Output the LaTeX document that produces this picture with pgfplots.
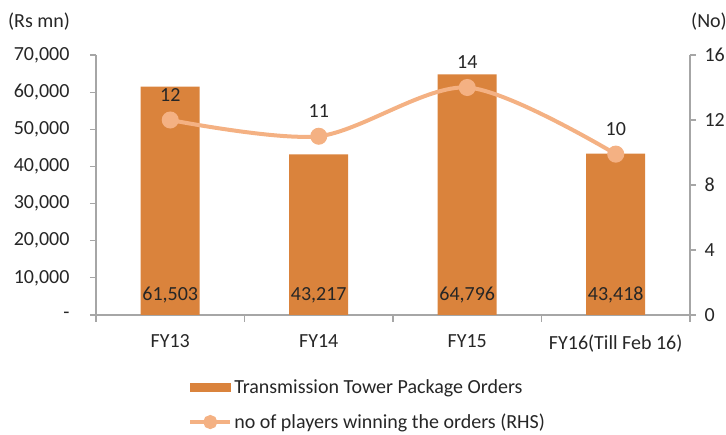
\documentclass[border=0pt]{standalone}
\usepackage{pgfplots}
\pgfplotsset{compat=1.18}
\usepackage{fontspec}
\setmainfont{Carlito}
\definecolor{barc}{RGB}{218,131,60}
\definecolor{linec}{RGB}{244,177,131}
\definecolor{axc}{RGB}{166,166,166}
\definecolor{txt}{RGB}{38,38,38}
\newcommand{\fs}{\fontsize{20}{24}\selectfont}
\begin{document}
\begin{tikzpicture}
\useasboundingbox (-96pt,-120pt) rectangle (630pt,315pt);
\begin{axis}[
  at={(0pt,0pt)}, anchor=south west,
  scale only axis, width=594pt, height=260pt,
  xmin=-0.5, xmax=3.5, ymin=0, ymax=70000,
  scaled y ticks=false,
  axis x line*=bottom, axis y line*=left,
  axis line style={axc, line width=1.2pt, -},
  tick align=outside,
  clip=false,
  xtick={0,1,2,3},
  xticklabels={FY13,FY14,FY15,FY16(Till Feb 16)},
  major x tick style={draw=none},
  minor xtick={-0.5,0.5,1.5,2.5,3.5},
  minor x tick style={axc, line width=1.2pt},
  minor tick length=7pt,
  major tick length=6pt,
  ytick={0,10000,20000,30000,40000,50000,60000,70000},
  yticklabels={-,{10,000},{20,000},{30,000},{40,000},{50,000},{60,000},{70,000}},
  y tick style={axc, line width=1.2pt},
  tick label style={font=\fs, text=txt},
  yticklabel style={xshift=-17pt},
  xticklabel style={yshift=-10pt},
]
\addplot[ybar, bar width=59pt, fill=barc, draw=none] coordinates {(0,61503) (1,43217) (2,64796) (3,43418)};
\addplot[draw=none, mark=none, nodes near coords, point meta=explicit symbolic,
  nodes near coords style={font=\fs, text=txt, anchor=center, yshift=20pt}]
  coordinates {(0,0) [61,503] (1,0) [43,217] (2,0) [64,796] (3,0) [43,418]};
\end{axis}
\begin{axis}[
  at={(0pt,0pt)}, anchor=south west,
  scale only axis, width=594pt, height=260pt,
  xmin=-0.5, xmax=3.5, ymin=0, ymax=16,
  axis x line=none, axis y line*=right,
  axis line style={axc, line width=1.2pt, -},
  tick align=outside,
  clip=false,
  major tick length=6pt,
  ytick={0,4,8,12,16},
  yticklabels={0,4,8,12,16},
  y tick style={axc, line width=1.2pt},
  tick label style={font=\fs, text=txt},
  yticklabel style={xshift=5pt},
  legend style={at={(axis description cs:0.155,-0.24)}, anchor=north west,
    draw=none, fill=none, font=\fs, text=txt, row sep=15pt, inner sep=0pt},
  legend cell align=left,
]
\addlegendimage{legend image code/.code={\fill[barc] (0pt,-4pt) rectangle (40pt,4pt);}}
\addlegendentry{Transmission Tower Package Orders}
\addplot[linec, line width=4pt, smooth, mark=*, mark size=6.5pt, mark options={fill=linec, draw=none},
  nodes near coords, point meta=explicit symbolic,
  nodes near coords style={font=\fs, text=txt, anchor=center, yshift=25pt},
  legend image code/.code={\draw[linec, line width=4pt] (0pt,0pt) -- (40pt,0pt); \fill[linec] (20pt,0pt) circle (5pt);}]
  coordinates {(0,12) [12] (1,11) [11] (2,14) [14] (3,9.9) [10]};
\addlegendentry{no of players winning the orders (RHS)}
\end{axis}
\node[font=\fs, text=txt] at (-57pt,293pt) {(Rs mn)};
\node[font=\fs, text=txt] at (613pt,293pt) {(No)};
\end{tikzpicture}
\end{document}
